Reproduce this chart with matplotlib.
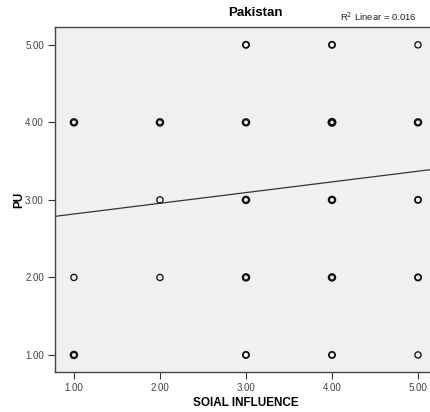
import matplotlib
matplotlib.use("Agg")
import matplotlib.pyplot as plt
import numpy as np

plt.rcParams['font.family'] = ['Liberation Sans', 'DejaVu Sans']

# Observed (x, y) response pairs and how many respondents share each pair
social_influence = [1, 1, 1, 2, 2, 2, 3, 3, 3, 3, 3, 4, 4, 4, 4, 4, 5, 5, 5, 5, 5]
pu = [4, 2, 1, 4, 3, 2, 5, 4, 3, 2, 1, 5, 4, 3, 2, 1, 5, 4, 3, 2, 1]
overlap = [3, 1, 3, 3, 1, 1, 2, 3, 3, 3, 2, 2, 4, 3, 3, 2, 1, 3, 2, 2, 1]

# Linear fit line
fit_intercept = 2.68
fit_slope = 0.138
r2_linear = 0.016

tick_values = [1.0, 2.0, 3.0, 4.0, 5.0]

fig = plt.figure(figsize=(4.30, 4.12), dpi=100)
ax = fig.add_axes([55 / 430, 1 - 372 / 412, 400 / 430, (372 - 27) / 412])
ax.set_facecolor('#f0f0f0')

ax.set_xlim(0.78, 5.43)
ax.set_ylim(0.78, 5.23)

lw = [0.6 + 0.35 * c for c in overlap]
ax.scatter(social_influence, pu, s=20, facecolors='none', edgecolors='#111111',
           linewidths=lw, zorder=3)

xs = np.array(ax.get_xlim())
ax.plot(xs, fit_intercept + fit_slope * xs, color='#333333', linewidth=0.9, zorder=2)

ax.set_xticks(tick_values)
ax.set_yticks(tick_values)
ax.set_xticklabels([f"{v:.2f}" for v in tick_values])
ax.set_yticklabels([f"{v:.2f}" for v in tick_values])
ax.tick_params(axis='both', direction='out', length=5, width=0.8, colors='#333333',
               labelsize=7, labelcolor='#444444', pad=3)

for side in ['left', 'bottom', 'top']:
    ax.spines[side].set_color('#444444')
    ax.spines[side].set_linewidth(1.0)
ax.spines['right'].set_visible(False)

ax.set_xlabel('SOIAL INFLUENCE', fontsize=8.5, fontweight='bold')
ax.xaxis.set_label_coords((246 - 55) / 400, -(397 - 372) / 345)
ax.set_ylabel('PU', fontsize=8.5, fontweight='bold')
ax.yaxis.set_label_coords(-(55 - 25) / 400, (372 - 200) / 345)

fig.text(255 / 430, 1 - 13 / 412, 'Pakistan', ha='center', va='center',
         fontsize=9.5, fontweight='bold')
fig.text(340 / 430, 1 - 17 / 412, f'R$^2$ Linear = {r2_linear:.3f}', ha='left',
         va='center', fontsize=6.8, color='#222222')

fig.savefig('out.png', dpi=100, facecolor='white')
